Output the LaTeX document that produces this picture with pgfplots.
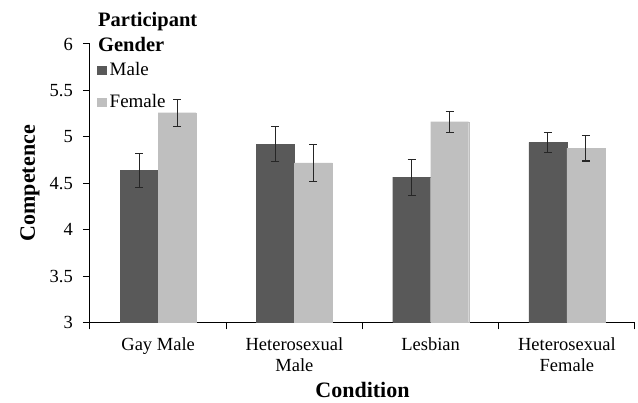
\documentclass[border=0pt]{standalone}
\usepackage{pgfplots}
\pgfplotsset{compat=1.18}
\usepackage{fontspec}
\setmainfont{Liberation Serif}
\definecolor{darkbar}{HTML}{595959}
\definecolor{lightbar}{HTML}{BFBFBF}
\definecolor{errcol}{HTML}{262626}
\begin{document}
\begin{tikzpicture}
\path[use as bounding box] (-90pt,-80.5pt) rectangle (548pt,322.5pt);
\begin{axis}[
  at={(0pt,0pt)}, anchor=south west,
  scale only axis, width=545pt, height=278.5pt,
  xmin=-0.5, xmax=3.5, ymin=3, ymax=6,
  ybar=0pt, bar width=0.279,
  axis lines*=left,
  axis line style={line width=1pt, black},
  tick style={line width=1pt, black},
  tick align=outside,
  major tick length=7pt,
  ytick={3,3.5,4,4.5,5,5.5,6},
  yticklabels={3,3.5,4,4.5,5,5.5,6},
  yticklabel style={font=\fontsize{18.5}{21}\selectfont, inner sep=0pt, xshift=-10pt},
  xtick={-0.5,0.5,1.5,2.5,3.5},
  xticklabels={},
  extra x ticks={0,1,2,3},
  extra x tick labels={Gay Male, Heterosexual\\Male, Lesbian, Heterosexual\\Female},
  extra x tick style={tick style={draw=none},
    xticklabel style={font=\fontsize{18.5}{21}\selectfont, align=center, anchor=north, inner sep=0pt, yshift=-8pt}},
  /pgf/number format/assume math mode=true,
  clip=false,
  xlabel={Condition},
  ylabel={Competence},
  xlabel style={font=\bfseries\fontsize{22}{26}\selectfont, at={([yshift=-75.5pt]axis description cs:0.5,0)}, anchor=base, inner sep=0pt},
  ylabel style={font=\bfseries\fontsize{22}{26}\selectfont, at={([xshift=-55pt]axis description cs:0,0.5)}, anchor=base, inner sep=0pt},
  legend style={at={([xshift=7pt,yshift=-17pt]rel axis cs:0,1)}, anchor=north west, draw=none, fill=none, inner sep=0pt, row sep=13pt,
    font=\fontsize{19}{22}\selectfont,
    nodes={inner sep=1pt, text height=13pt, text depth=4pt}},
  legend cell align=left,
  legend image code/.code={\fill[#1, draw=none] (0pt,-4.5pt) rectangle (9.5pt,4.5pt);},
]
\addplot[fill=darkbar, draw=darkbar, line width=0.2pt,
  error bars/.cd, y dir=both, y explicit, error mark=-,
  error bar style={line width=1.1pt, color=errcol},
  error mark options={rotate=90, line width=1.1pt, mark size=4pt, color=errcol}]
  table[x=x, y=y, y error=e] {
x y e
0 4.64 0.185
1 4.92 0.19
2 4.565 0.195
3 4.94 0.111
};
\addlegendentry{\hspace{2pt}Male}
\addplot[fill=lightbar, draw=lightbar, line width=0.2pt,
  error bars/.cd, y dir=both, y explicit, error mark=-,
  error bar style={line width=1.1pt, color=errcol},
  error mark options={rotate=90, line width=1.1pt, mark size=4pt, color=errcol}]
  table[x=x, y=y, y error=e] {
x y e
0 5.26 0.145
1 4.72 0.20
2 5.164 0.113
3 4.877 0.137
};
\addlegendentry{\hspace{2pt}Female}
\node[anchor=base west, font=\bfseries\fontsize{20.5}{24}\selectfont, inner sep=0pt] at ([xshift=8pt,yshift=17.3pt]rel axis cs:0,1) {Participant};
\node[anchor=base west, font=\bfseries\fontsize{20.5}{24}\selectfont, inner sep=0pt] at ([xshift=8pt,yshift=-7.7pt]rel axis cs:0,1) {Gender};
\end{axis}
\end{tikzpicture}
\end{document}
